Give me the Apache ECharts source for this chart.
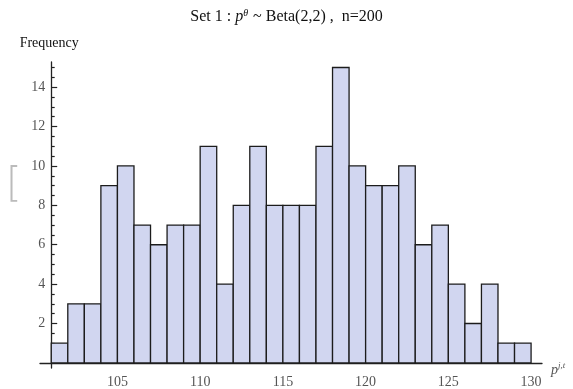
<!DOCTYPE html>
<html>
<head>
<meta charset="utf-8">
<script src="https://cdn.jsdelivr.net/npm/echarts@6/dist/echarts.min.js"></script>
<style>html,body{margin:0;padding:0;background:#fff}#c{width:573px;height:389px}</style>
</head>
<body>
<div id="c"></div>
<script>
// Histogram data: left edge of each bin (width 1) and its count
const binLeft = [101,102,103,104,105,106,107,108,109,110,111,112,113,114,115,116,117,118,119,120,121,122,123,124,125,126,127,128,129];
const counts  = [1,3,3,9,10,7,6,7,7,11,4,8,11,8,8,8,11,15,10,9,9,10,6,7,4,2,4,1,1];
const binWidth = 1;
const xTickLabels = [105,110,115,120,125,130];
const yTickLabels = [2,4,6,8,10,12,14];
const yMinorTicks = [0.5,1,1.5,2.5,3,3.5,4.5,5,5.5,6.5,7,7.5,8.5,9,9.5,10.5,11,11.5,12.5,13,13.5,14.5,15];

const serif = 'Liberation Serif';
const chart = echarts.init(document.getElementById('c'), null, {renderer: 'canvas'});
const data = binLeft.map((b, i) => [b, b + binWidth, counts[i]]);

chart.setOption({
  animation: false,
  backgroundColor: '#fff',
  title: {
    left: 'center', top: 3,
    text: '{n|Set 1 : }{i|p}{s|θ}{n| ~ Beta(2,2) ,  n=200}',
    textStyle: {
      fontWeight: 'normal',
      rich: {
        n: {fontFamily: serif, fontSize: 16, fontWeight: 'normal', color: '#111'},
        i: {fontFamily: serif, fontSize: 16, fontWeight: 'normal', fontStyle: 'italic', color: '#111'},
        s: {fontFamily: serif, fontSize: 10, fontWeight: 'normal', fontStyle: 'italic', color: '#111', padding: [0, 1, 8, 0]}
      }
    }
  },
  grid: {left: 40, right: 31, top: 62, bottom: 20},
  xAxis: {
    type: 'value', min: 100.32, max: 130.66,
    name: '{i|p}{s|j,t}', nameLocation: 'end', nameGap: 9,
    nameTextStyle: {
      rich: {
        i: {fontFamily: serif, fontSize: 14, fontStyle: 'italic', color: '#555'},
        s: {fontFamily: serif, fontSize: 9, fontStyle: 'italic', color: '#555', padding: [0, 0, 8, 0]}
      },
      padding: [14, 0, 0, 0]
    },
    axisLine: {onZero: true, lineStyle: {color: '#222', width: 1.3}},
    axisTick: {show: false},
    splitLine: {show: false},
    axisLabel: {customValues: xTickLabels, color: '#555', fontFamily: serif, fontSize: 14, margin: 7}
  },
  yAxis: [{
    type: 'value', min: -0.26, max: 15.28, offset: -11.2,
    name: 'Frequency', nameLocation: 'end', nameGap: 12,
    nameTextStyle: {fontFamily: serif, fontSize: 14, color: '#111', padding: [0, 4, 0, 0]},
    axisLine: {lineStyle: {color: '#222', width: 1.3}},
    axisTick: {inside: true, length: 6, customValues: yTickLabels, lineStyle: {color: '#222', width: 1.2}},
    splitLine: {show: false},
    axisLabel: {customValues: yTickLabels, color: '#555', fontFamily: serif, fontSize: 14, margin: 6}
  }, {
    type: 'value', min: -0.26, max: 15.28, offset: -11.2, position: 'left',
    axisLine: {show: false},
    axisTick: {inside: true, length: 3.5, customValues: yMinorTicks, lineStyle: {color: '#222', width: 1.2}},
    splitLine: {show: false},
    axisLabel: {show: false}
  }],
  graphic: [{
    type: 'text', left: 6, top: 166,
    style: {text: '[', fontFamily: 'DejaVu Sans', fontSize: 40, fontWeight: 'lighter', fill: '#bbb'}
  }],
  series: [{
    type: 'custom',
    data: data,
    encode: {x: [0, 1], y: 2},
    renderItem: function (params, api) {
      const p0 = api.coord([api.value(0), api.value(2)]);
      const p1 = api.coord([api.value(1), 0]);
      return {
        type: 'rect',
        shape: {x: p0[0], y: p0[1], width: p1[0] - p0[0], height: p1[1] - p0[1]},
        style: {fill: '#d1d6f0', stroke: '#1c1c1c', lineWidth: 1.3}
      };
    }
  }]
});
</script>
</body>
</html>
